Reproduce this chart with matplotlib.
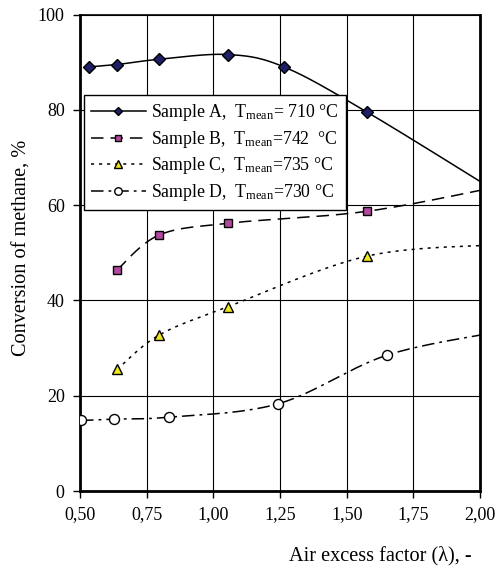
import numpy as np
import matplotlib
matplotlib.use("Agg")
import matplotlib.pyplot as plt

plt.rcParams["font.family"] = ["Liberation Serif", "DejaVu Serif"]
plt.rcParams["mathtext.fontset"] = "custom"
plt.rcParams["mathtext.rm"] = "Liberation Serif"
plt.rcParams["mathtext.it"] = "Liberation Serif:italic"
plt.rcParams["lines.scale_dashes"] = False

# Air excess factor (lambda) and methane conversion (%) per sample
lam_a = [0.535, 0.639, 0.796, 1.056, 1.265, 1.577, 2.10]
conv_a = [89.0, 89.5, 90.6, 91.6, 89.0, 79.5, 61.5]

lam_b = [0.639, 0.796, 1.056, 1.576, 2.08]
conv_b = [46.4, 53.7, 56.2, 58.7, 64.0]

lam_c = [0.639, 0.796, 1.056, 1.577, 2.08]
conv_c = [25.5, 32.7, 38.7, 49.3, 51.7]

lam_d = [0.504, 0.629, 0.833, 1.243, 1.651, 2.08]
conv_d = [14.8, 15.1, 15.5, 18.3, 28.5, 33.5]

labels = [
    r"Sample A,  T$_{\mathrm{mean}}$= 710 °C",
    r"Sample B,  T$_{\mathrm{mean}}$=742  °C",
    r"Sample C,  T$_{\mathrm{mean}}$=735 °C",
    r"Sample D,  T$_{\mathrm{mean}}$=730 °C",
]

x_ticks = [0.50, 0.75, 1.00, 1.25, 1.50, 1.75, 2.00]
x_ticklabels = ["0,50", "0,75", "1,00", "1,25", "1,50", "1,75", "2,00"]
y_ticks = [0, 20, 40, 60, 80, 100]


def smooth(xs, ys, n=40):
    """Catmull-Rom style Bezier smoothing through every point."""
    p = np.column_stack([xs, ys]).astype(float)
    pts = np.vstack([p[0], p, p[-1]])
    out = []
    t = np.linspace(0, 1, n)[:, None]
    for i in range(1, len(pts) - 2):
        p0, p1, p2, p3 = pts[i - 1], pts[i], pts[i + 1], pts[i + 2]
        c1 = p1 + (p2 - p0) / 6.0
        c2 = p2 - (p3 - p1) / 6.0
        seg = ((1 - t) ** 3) * p1 + 3 * ((1 - t) ** 2) * t * c1 \
            + 3 * (1 - t) * t ** 2 * c2 + t ** 3 * p2
        out.append(seg if i == 1 else seg[1:])
    s = np.vstack(out)
    return s[:, 0], s[:, 1]


fig = plt.figure(figsize=(5.03, 5.71), dpi=100)
ax = fig.add_axes([80 / 503, 80 / 571, 400 / 503, 476.5 / 571])

series = [
    (lam_a, conv_a, "-", "D", "#1e1f66", 5.8),
    (lam_b, conv_b, (0, (9, 5)), "s", "#b3489f", 6.2),
    (lam_c, conv_c, (0, (2.2, 3.6)), "^", "#f0e61e", 7.2),
    (lam_d, conv_d, (0, (9, 3.6, 2.0, 3.6)), "o", "white", 7.2),
]

handles = []
for (xs, ys, ls, mk, fc, ms), lab in zip(series, labels):
    sx, sy = smooth(xs, ys)
    ax.plot(sx, sy, color="black", lw=1.1, linestyle=ls, zorder=3)
    ax.plot(xs, ys, linestyle="none", marker=mk, markerfacecolor=fc,
            markeredgecolor="black", markeredgewidth=1.0, markersize=ms,
            zorder=4)
    h, = ax.plot([], [], color="black", lw=1.1, linestyle=ls, marker=mk,
                 markerfacecolor=fc, markeredgecolor="black",
                 markeredgewidth=1.0, markersize=ms * 0.75)
    handles.append(h)

ax.set_xlim(0.5, 2.0)
ax.set_ylim(0, 100)
ax.set_xticks(x_ticks)
ax.set_xticklabels(x_ticklabels)
ax.set_yticks(y_ticks)
ax.tick_params(axis="both", direction="out", length=5, width=1.0,
               labelsize=13, pad=6, color="black")
ax.grid(True, color="black", lw=0.8)
ax.set_axisbelow(True)

for side in ["left", "bottom", "right"]:
    ax.spines[side].set_linewidth(2.0)
ax.spines["top"].set_linewidth(1.2)

fig.text(22 / 503, 1 - 248 / 571, "Conversion of methane, %",
         fontsize=14.6, rotation=90, ha="center", va="center")
fig.text(472 / 503, 1 - 556 / 571, "Air excess factor (λ), -",
         fontsize=14.6, ha="right", va="center")

leg = ax.legend(handles, labels, loc="upper left",
                bbox_to_anchor=(3.5 / 400, (476.5 - 80.5) / 476.5),
                fontsize=12.8, frameon=True, fancybox=False,
                edgecolor="black", framealpha=1.0, handlelength=3.1,
                handletextpad=0.3, borderpad=0.4, labelspacing=0.32,
                borderaxespad=0.0)
leg.get_frame().set_linewidth(1.0)
leg.set_zorder(5)

fig.savefig("out.png", dpi=100)
